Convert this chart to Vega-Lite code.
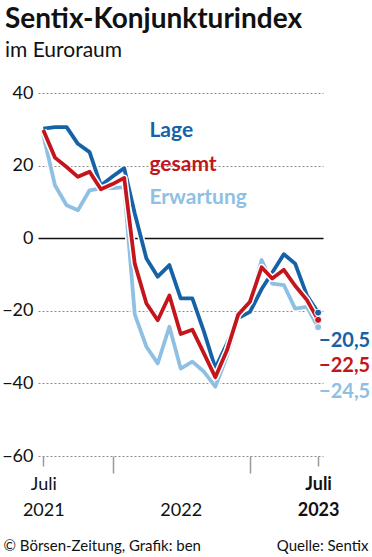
{
  "$schema": "https://vega.github.io/schema/vega-lite/v6.json",
  "autosize": {"type": "none"},
  "width": 285,
  "height": 363,
  "padding": {"left": 38, "top": 93, "right": 49, "bottom": 101},
  "background": "white",
  "config": {
    "font": "Lato",
    "view": {"stroke": null},
    "locale": {"number": {"decimal": ",", "thousands": ".", "grouping": [3], "currency": ["", " €"], "minus": "−"}}
  },
  "title": {
    "text": "Sentix-Konjunkturindex",
    "subtitle": "im Euroraum",
    "anchor": "start",
    "frame": "group",
    "dx": -33,
    "offset": 23,
    "fontSize": 28,
    "fontWeight": "bold",
    "color": "#111111",
    "subtitleFontSize": 21,
    "subtitleColor": "#111111",
    "subtitlePadding": 6
  },
  "data": {
    "values": [
      {"date": "2021-07-01", "Lage": 30.2, "gesamt": 29.8, "Erwartung": 28.5},
      {"date": "2021-08-01", "Lage": 30.6, "gesamt": 22.2, "Erwartung": 14.6},
      {"date": "2021-09-01", "Lage": 30.6, "gesamt": 19.6, "Erwartung": 9.1},
      {"date": "2021-10-01", "Lage": 26.0, "gesamt": 16.9, "Erwartung": 7.7},
      {"date": "2021-11-01", "Lage": 23.7, "gesamt": 18.3, "Erwartung": 13.2},
      {"date": "2021-12-01", "Lage": 14.5, "gesamt": 13.5, "Erwartung": 13.7},
      {"date": "2022-01-01", "Lage": 17.0, "gesamt": 14.9, "Erwartung": 13.8},
      {"date": "2022-02-01", "Lage": 19.3, "gesamt": 16.6, "Erwartung": 14.1},
      {"date": "2022-03-01", "Lage": 6.8, "gesamt": -7.0, "Erwartung": -21.0},
      {"date": "2022-04-01", "Lage": -5.6, "gesamt": -18.0, "Erwartung": -29.9},
      {"date": "2022-05-01", "Lage": -10.6, "gesamt": -22.6, "Erwartung": -34.5},
      {"date": "2022-06-01", "Lage": -7.4, "gesamt": -15.8, "Erwartung": -24.4},
      {"date": "2022-07-01", "Lage": -16.6, "gesamt": -26.4, "Erwartung": -35.9},
      {"date": "2022-08-01", "Lage": -16.6, "gesamt": -25.2, "Erwartung": -34.0},
      {"date": "2022-09-01", "Lage": -25.8, "gesamt": -31.8, "Erwartung": -36.8},
      {"date": "2022-10-01", "Lage": -35.8, "gesamt": -38.3, "Erwartung": -40.9},
      {"date": "2022-11-01", "Lage": -29.0, "gesamt": -30.9, "Erwartung": -32.5},
      {"date": "2022-12-01", "Lage": -22.0, "gesamt": -21.0, "Erwartung": -22.0},
      {"date": "2023-01-01", "Lage": -20.3, "gesamt": -17.5, "Erwartung": -18.0},
      {"date": "2023-02-01", "Lage": -14.0, "gesamt": -8.0, "Erwartung": -6.0},
      {"date": "2023-03-01", "Lage": -9.5, "gesamt": -11.1, "Erwartung": -12.5},
      {"date": "2023-04-01", "Lage": -4.4, "gesamt": -8.7, "Erwartung": -12.9},
      {"date": "2023-05-01", "Lage": -7.0, "gesamt": -13.1, "Erwartung": -19.4},
      {"date": "2023-06-01", "Lage": -15.7, "gesamt": -17.0, "Erwartung": -18.9},
      {"date": "2023-07-01", "Lage": -20.5, "gesamt": -22.5, "Erwartung": -24.5}
    ]
  },
  "transform": [
    {"fold": ["Lage", "gesamt", "Erwartung"], "as": ["series", "value"]}
  ],
  "encoding": {
    "x": {
      "field": "date",
      "type": "temporal",
      "scale": {"type": "utc", "domain": [{"year": 2021, "month": 6, "date": 17, "utc": true}, {"year": 2023, "month": 7, "date": 14, "utc": true}]},
      "axis": {
        "values": [
          {"year": 2021, "month": 7, "date": 1, "utc": true},
          {"year": 2022, "month": 1, "date": 1, "utc": true},
          {"year": 2022, "month": 7, "date": 1, "utc": true},
          {"year": 2023, "month": 1, "date": 1, "utc": true},
          {"year": 2023, "month": 7, "date": 1, "utc": true}
        ],
        "domain": false,
        "grid": false,
        "ticks": true,
        "tickColor": "#9a9a9a",
        "tickWidth": 1.5,
        "tickSize": {"condition": {"test": "utcmonth(datum.value) == 0", "value": 17}, "value": 10},
        "tickOpacity": {"condition": {"test": "utcFormat(datum.value, '%Y-%m') == '2022-07'", "value": 0}, "value": 1},
        "labelExpr": "utcFormat(datum.value, '%Y-%m') == '2021-07' ? ['Juli', '2021'] : utcFormat(datum.value, '%Y-%m') == '2022-07' ? [' ', '2022'] : utcFormat(datum.value, '%Y-%m') == '2023-07' ? ['Juli', '2023'] : ''",
        "labelFontWeight": {"condition": {"test": "utcFormat(datum.value, '%Y-%m') == '2023-07'", "value": "bold"}, "value": "normal"},
        "labelFontSize": 18,
        "labelLineHeight": 26,
        "labelColor": "#111111",
        "labelPadding": 9,
        "labelFlush": false,
        "labelOverlap": false,
        "title": "© Börsen-Zeitung, Grafik: ben",
        "titleFontWeight": "normal",
        "titleFontSize": 15,
        "titleColor": "#111111",
        "titleAnchor": "start",
        "titleAlign": "left",
        "titleBaseline": "alphabetic",
        "titleX": -35,
        "titleY": 94
      }
    },
    "y": {
      "field": "value",
      "type": "quantitative",
      "scale": {"domain": [-60, 40], "nice": false, "zero": false},
      "axis": {
        "values": [-60, -40, -20, 0, 20, 40],
        "domain": false,
        "ticks": false,
        "grid": true,
        "gridColor": {"condition": {"test": "datum.value == 0", "value": "#111111"}, "value": "#8a8a8a"},
        "gridDash": {"condition": {"test": "datum.value == 0", "value": []}, "value": [2, 2]},
        "gridWidth": {"condition": {"test": "datum.value == 0", "value": 1.6}, "value": 1},
        "labelFontSize": 18,
        "labelColor": "#111111",
        "labelPadding": 5,
        "title": "Quelle: Sentix",
        "titleAngle": 0,
        "titleFontWeight": "normal",
        "titleFontSize": 15,
        "titleColor": "#111111",
        "titleAlign": "right",
        "titleBaseline": "alphabetic",
        "titleX": 330,
        "titleY": 457
      }
    }
  },
  "layer": [
    {"transform": [{"filter": "datum.series == 'Erwartung'"}], "mark": {"type": "line", "color": "white", "strokeWidth": 6.8, "strokeJoin": "round"}},
    {"transform": [{"filter": "datum.series == 'Erwartung'"}], "mark": {"type": "line", "color": "#8fc0e3", "strokeWidth": 3.8, "strokeJoin": "round"}},
    {"transform": [{"filter": "datum.series == 'Lage'"}], "mark": {"type": "line", "color": "white", "strokeWidth": 6.8, "strokeJoin": "round"}},
    {"transform": [{"filter": "datum.series == 'Lage'"}], "mark": {"type": "line", "color": "#1662a6", "strokeWidth": 3.8, "strokeJoin": "round"}},
    {"transform": [{"filter": "datum.series == 'gesamt'"}], "mark": {"type": "line", "color": "white", "strokeWidth": 6.8, "strokeJoin": "round"}},
    {"transform": [{"filter": "datum.series == 'gesamt'"}], "mark": {"type": "line", "color": "#c3161c", "strokeWidth": 3.8, "strokeJoin": "round"}},
    {
      "transform": [{"filter": "utcFormat(datum.date, '%Y-%m') == '2023-07'"}],
      "mark": {"type": "point", "filled": true, "size": 50, "stroke": "white", "strokeWidth": 1, "opacity": 1},
      "encoding": {
        "color": {"field": "series", "type": "nominal", "scale": {"domain": ["Lage", "gesamt", "Erwartung"], "range": ["#1662a6", "#c3161c", "#8fc0e3"]}, "legend": null}
      }
    },
    {
      "transform": [{"filter": "utcFormat(datum.date, '%Y-%m') == '2023-07' && datum.series == 'Lage'"}],
      "mark": {"type": "text", "align": "left", "baseline": "alphabetic", "dx": 1, "dy": 34, "fontSize": 20, "fontWeight": "bold", "color": "#1662a6"},
      "encoding": {"text": {"field": "value", "type": "quantitative", "format": ".1f"}}
    },
    {
      "transform": [{"filter": "utcFormat(datum.date, '%Y-%m') == '2023-07' && datum.series == 'gesamt'"}],
      "mark": {"type": "text", "align": "left", "baseline": "alphabetic", "dx": 1, "dy": 52, "fontSize": 20, "fontWeight": "bold", "color": "#c3161c"},
      "encoding": {"text": {"field": "value", "type": "quantitative", "format": ".1f"}}
    },
    {
      "transform": [{"filter": "utcFormat(datum.date, '%Y-%m') == '2023-07' && datum.series == 'Erwartung'"}],
      "mark": {"type": "text", "align": "left", "baseline": "alphabetic", "dx": 1, "dy": 71, "fontSize": 20, "fontWeight": "bold", "color": "#8fc0e3"},
      "encoding": {"text": {"field": "value", "type": "quantitative", "format": ".1f"}}
    },
    {
      "transform": [{"filter": "utcFormat(datum.date, '%Y-%m') == '2022-04' && datum.series == 'Lage'"}],
      "mark": {"type": "text", "align": "left", "baseline": "alphabetic", "dx": 3, "fontSize": 21, "fontWeight": "bold", "color": "#1662a6"},
      "encoding": {
        "y": {"datum": 28, "type": "quantitative"},
        "text": {"field": "series", "type": "nominal"}
      }
    },
    {
      "transform": [{"filter": "utcFormat(datum.date, '%Y-%m') == '2022-04' && datum.series == 'gesamt'"}],
      "mark": {"type": "text", "align": "left", "baseline": "alphabetic", "dx": 3, "fontSize": 21, "fontWeight": "bold", "color": "#c3161c"},
      "encoding": {
        "y": {"datum": 18.5, "type": "quantitative"},
        "text": {"field": "series", "type": "nominal"}
      }
    },
    {
      "transform": [{"filter": "utcFormat(datum.date, '%Y-%m') == '2022-04' && datum.series == 'Erwartung'"}],
      "mark": {"type": "text", "align": "left", "baseline": "alphabetic", "dx": 3, "fontSize": 21, "fontWeight": "bold", "color": "#8fc0e3"},
      "encoding": {
        "y": {"datum": 9.4, "type": "quantitative"},
        "text": {"field": "series", "type": "nominal"}
      }
    }
  ]
}
